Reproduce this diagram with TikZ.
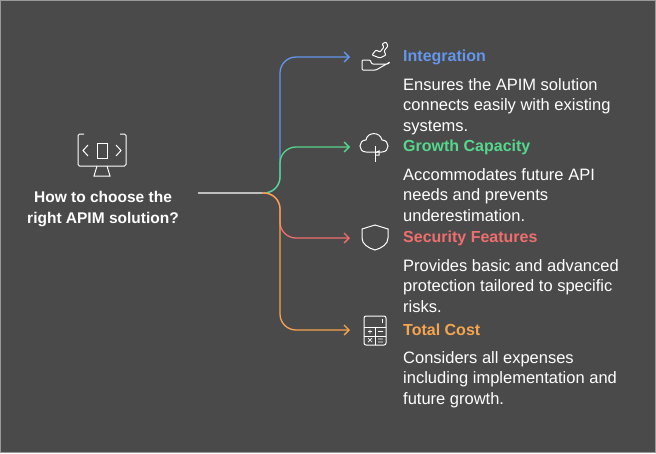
\documentclass[tikz,border=0pt]{standalone}
\usepackage{fontspec}
\setmainfont{Liberation Sans}
\usetikzlibrary{arrows.meta}
\definecolor{bg}{RGB}{74,74,74}
\definecolor{cblue}{RGB}{100,150,235}
\definecolor{cgreen}{RGB}{85,215,140}
\definecolor{cred}{RGB}{240,110,110}
\definecolor{corange}{RGB}{245,165,80}
\definecolor{cgray}{RGB}{190,190,190}
\tikzset{
  head/.style={anchor=west, inner sep=0pt, font=\bfseries\fontsize{16}{20}\selectfont},
  desc/.style={anchor=north west, inner sep=0pt, text=white, align=left, font=\fontsize{16.5}{20.5}\selectfont},
  icon/.style={draw=white, line width=1pt},
  branch/.style={line width=1.3pt, -{Straight Barb[length=5pt,width=10pt]}, rounded corners=16pt}
}
\begin{document}
\begin{tikzpicture}[x=1pt,y=-1pt]

% background
\fill[bg] (0,0) rectangle (656,453);
\draw[gray!80, line width=1pt] (0.5,0.5) rectangle (655.5,452.5);

% title
\node[text=white, align=center, inner sep=0pt, font=\bfseries\fontsize{15.5}{20.5}\selectfont] (title) at (103,209) {How to choose the\\right APIM solution?};
\draw[icon, rounded corners=1.5pt] (84,134) -- (78,134) -- (78,166) -- (126,166) -- (126,134) -- (120,134);
\draw[icon] (97,143) rectangle (107,158);
\draw[icon] (88,145) -- (83,150.5) -- (88,156);
\draw[icon] (116,145) -- (121,150.5) -- (116,156);
\draw[icon] (97,166) -- (94,176) -- (110,176) -- (107,166);
\coordinate (root) at (198,193);
\coordinate (fork) at (262,193);

% branches
\draw[cgray, line width=1.3pt] (root) -- (fork);
\foreach \y/\c in {57/cblue, 147/cgreen, 238/cred, 330/corange}
  \draw[branch, \c] (fork) -| (280,\y) -- (350,\y);

% items
\node[head, text=cblue] (h1) at (403,57) {Integration};
\node[desc] (d1) at (403,78) {Ensures the APIM solution\\connects easily with existing\\systems.};
\node[head, text=cgreen] (h2) at (403,147) {Growth Capacity};
\node[desc] (d2) at (403,168) {Accommodates future API\\needs and prevents\\underestimation.};
\node[head, text=cred] (h3) at (403,238) {Security Features};
\node[desc] (d3) at (403,259) {Provides basic and advanced\\protection tailored to specific\\risks.};
\node[head, text=corange] (h4) at (403,330) {Total Cost};
\node[desc] (d4) at (403,351) {Considers all expenses\\including implementation and\\future growth.};

% icons
\draw[icon, rounded corners=1pt] (362,60) -- (370,60) -- (372,64) -- (388,64) -- (390,62) -- (376,70) -- (362,70) -- cycle;
\draw[icon, rounded corners=1pt] (372,55) -- (376,50) -- (380,52) -- (384,47) -- (382,44) -- (386,42) -- (388,46) -- (384,51) -- (386,55) -- (380,58) -- cycle;
\draw[icon] (366,152) .. controls (358,152) and (358,140) .. (366,140) .. controls (367,132) and (380,131) .. (382,140) .. controls (390,140) and (390,152) .. (382,152) -- (366,152);
\draw[icon] (375,146) -- (375,162);
\draw[icon] (375,153) -- (379,151) -- (379,155) -- (375,155);
\draw[icon] (362,229) -- (375,225) -- (388,229) -- (388,238) .. controls (388,244) and (382,248) .. (375,250) .. controls (368,248) and (362,244) .. (362,238) -- cycle;
\draw[icon, rounded corners=2pt] (364,316) rectangle (386,345);
\draw[icon] (364,327) -- (386,327) (364,336) -- (386,336) (375,327) -- (375,345);
\draw[icon] (382,319) -- (382,323);
\draw[icon, line width=0.7pt] (368,331.5) -- (372,331.5) (370,329.5) -- (370,333.5) (378,331.5) -- (383,331.5)
  (368,338) -- (372,342) (372,338) -- (368,342) (378,339) -- (383,339) (378,342) -- (383,342);
\end{tikzpicture}
\end{document}
